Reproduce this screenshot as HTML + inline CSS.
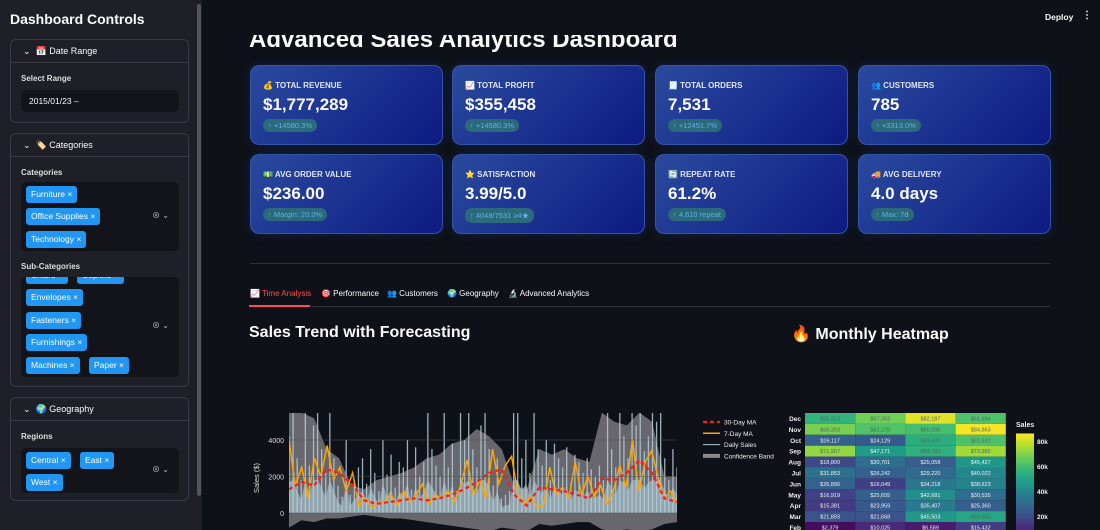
<!DOCTYPE html>
<html><head><meta charset="utf-8">
<style>
*{box-sizing:border-box;margin:0;padding:0}
body{width:1100px;height:530px;overflow:hidden;background:#0e1117;font-family:"Liberation Sans","Noto Sans CJK SC",sans-serif;color:#fafafa;position:relative}
.abs{position:absolute}
#sidebar{left:0;top:0;width:202px;height:530px;background:#1f2027;z-index:5}
.sbtitle{left:10px;top:11px;font-size:14px;font-weight:bold}
.exp{left:10px;width:179px;border:1px solid #3a3b45;border-radius:6px}
.exphead{height:23px;border-bottom:1px solid #3a3b45;font-size:9px;padding:6px 0 0 12px}
.lbl{font-size:8px;font-weight:bold;color:#ddd;position:absolute;left:10px}
.inp{position:absolute;left:10px;width:158px;background:#13141a;border-radius:5px}
.tag{position:absolute;background:#2196f3;color:#fff;font-size:8.5px;border-radius:3px;height:17px;line-height:17px;padding:0 5px}
.ctl{position:absolute;right:10px;font-size:8px;color:#bbb}
.card{width:193px;height:80px;border-radius:9px;background:linear-gradient(135deg,#2a4a9e,#0d1a82);border:1px solid #3554a8;box-shadow:0 0 10px rgba(30,60,160,.35)}
.card .t{position:absolute;left:12px;top:15px;font-size:8px;font-weight:bold;color:#e0e4f5}
.card .v{position:absolute;left:12px;top:29px;font-size:17px;font-weight:bold}
.card .d{position:absolute;left:12px;top:53px;font-size:7.5px;color:#5fb3f0;background:#2a6a7a;border-radius:7px;padding:2px 5px}
.tab{top:289px;font-size:8px}
</style></head><body>
<div id="sidebar" class="abs">
  <div class="abs sbtitle">Dashboard Controls</div>
  <div class="abs" style="left:197px;top:4px;width:4px;height:492px;background:#555;border-radius:2px"></div>
  <div class="abs exp" style="top:39px;height:84px">
    <div class="exphead">⌄ &nbsp;📅 Date Range</div>
    <div class="lbl" style="top:34px">Select Range</div>
    <div class="inp" style="top:50px;height:22px;font-size:8.5px;padding:6px 8px">2015/01/23 –</div>
  </div>
  <div class="abs exp" style="top:133px;height:254px">
    <div class="exphead">⌄ &nbsp;🏷️ Categories</div>
    <div class="lbl" style="top:34px">Categories</div>
    <div class="inp" style="top:48px;height:69px">
      <div class="tag" style="left:5px;top:4px">Furniture ×</div>
      <div class="tag" style="left:5px;top:26px">Office Supplies ×</div>
      <div class="tag" style="left:5px;top:49px">Technology ×</div>
      <div class="ctl" style="top:28px">⊗ ⌄</div>
    </div>
    <div class="lbl" style="top:128px">Sub-Categories</div>
    <div class="inp" style="top:143px;height:100px;overflow:hidden">
      <div class="tag" style="left:5px;top:-10px">Chairs ×</div>
      <div class="tag" style="left:56px;top:-10px">Copiers ×</div>
      <div class="tag" style="left:5px;top:12px">Envelopes ×</div>
      <div class="tag" style="left:5px;top:35px">Fasteners ×</div>
      <div class="tag" style="left:5px;top:57px">Furnishings ×</div>
      <div class="tag" style="left:5px;top:80px">Machines ×</div>
      <div class="tag" style="left:68px;top:80px">Paper ×</div>
      <div class="ctl" style="top:43px">⊗ ⌄</div>
    </div>
  </div>
  <div class="abs exp" style="top:397px;height:104px">
    <div class="exphead">⌄ &nbsp;🌍 Geography</div>
    <div class="lbl" style="top:34px">Regions</div>
    <div class="inp" style="top:50px;height:45px">
      <div class="tag" style="left:5px;top:4px">Central ×</div>
      <div class="tag" style="left:59px;top:4px">East ×</div>
      <div class="tag" style="left:5px;top:26px">West ×</div>
      <div class="ctl" style="top:16px">⊗ ⌄</div>
    </div>
  </div>
</div>

<div class="abs" style="left:249px;top:25px;font-size:24px;font-weight:bold;line-height:30px">Advanced Sales Analytics Dashboard</div>
<div class="abs" style="left:202px;top:0;width:898px;height:35px;background:#0e1117"></div>
<div class="abs" style="left:1045px;top:12px;font-size:8.5px;font-weight:bold">Deploy</div>
<div class="abs" style="left:1082px;top:10px;font-size:10px;font-weight:bold">⋮</div>

<div class="abs card" style="left:250px;top:65px"><div class="t">💰 TOTAL REVENUE</div><div class="v">$1,777,289</div><div class="d">↑ +14580.3%</div></div>
<div class="abs card" style="left:452px;top:65px"><div class="t">📈 TOTAL PROFIT</div><div class="v">$355,458</div><div class="d">↑ +14580.3%</div></div>
<div class="abs card" style="left:655px;top:65px"><div class="t">🧾 TOTAL ORDERS</div><div class="v">7,531</div><div class="d">↑ +12451.7%</div></div>
<div class="abs card" style="left:858px;top:65px"><div class="t">👥 CUSTOMERS</div><div class="v">785</div><div class="d">↑ +3313.0%</div></div>
<div class="abs card" style="left:250px;top:154px"><div class="t">💵 AVG ORDER VALUE</div><div class="v">$236.00</div><div class="d">↑ Margin: 20.0%</div></div>
<div class="abs card" style="left:452px;top:154px"><div class="t">⭐ SATISFACTION</div><div class="v">3.99/5.0</div><div class="d">↑ 4048/7531 ≥4★</div></div>
<div class="abs card" style="left:655px;top:154px"><div class="t">🔄 REPEAT RATE</div><div class="v">61.2%</div><div class="d">↑ 4,610 repeat</div></div>
<div class="abs card" style="left:858px;top:154px"><div class="t">🚚 AVG DELIVERY</div><div class="v">4.0 days</div><div class="d">↑ Max: 7d</div></div>

<div class="abs" style="left:250px;top:263px;width:800px;height:1px;background:#30323a"></div>
<div class="abs" style="left:250px;top:306px;width:800px;height:1px;background:#30323a"></div>
<div class="abs" style="left:249px;top:305px;width:61px;height:2px;background:#ff4b4b"></div>
<div class="abs tab" style="left:250px;color:#ff4b4b">📈 Time Analysis</div>
<div class="abs tab" style="left:321px">🎯 Performance</div>
<div class="abs tab" style="left:387px">👥 Customers</div>
<div class="abs tab" style="left:447px">🌍 Geography</div>
<div class="abs tab" style="left:508px">🔬 Advanced Analytics</div>
<div class="abs" style="left:249px;top:324px;font-size:16px;font-weight:bold">Sales Trend with Forecasting</div>
<div class="abs" style="left:791px;top:324px;font-size:16px;font-weight:bold">🔥 Monthly Heatmap</div>

<svg id="chart" class="abs" style="left:0;top:0" width="1100" height="530"></svg>

<script>
// ---- sales trend data (values in $) ----
const dailySales=[4200,5500,3000,1800,5500,2600,4800,5500,3500,2200,5500,3000,1500,900,4000,1000,1800,2500,3000,1600,3500,2200,1200,4000,2100,3200,1400,2800,2500,4000,1300,3600,2000,2800,5500,3500,2600,2000,5500,2500,3800,1200,5500,4000,5500,3500,2500,4800,5500,3500,1500,3000,800,1000,1200,5500,5500,3000,4000,2200,5500,3500,2600,4000,1800,3800,3000,2500,3600,1600,3200,2800,2200,3000,2400,2000,2600,1800,5500,3500,2500,5500,4200,3000,5500,4800,5500,3400,4200,5500,5000,5500,3000,1800,3500,2500];
const ma7=[4000,1500,2500,800,3000,2000,3700,1800,2500,1200,2200,400,800,300,500,600,1000,400,1200,600,1000,1600,500,1000,800,1200,600,1500,2900,1000,1800,800,3500,1600,2600,3100,1000,500,900,300,400,2500,1000,1400,800,2800,1000,2000,900,1500,500,1200,2600,1400,4000,1200,2800,3400,2000,800,1200,600];
const ma30=[1300,1700,1500,2400,2200,1600,700,500,600,700,800,700,800,1000,1300,1700,2200,2400,1000,400,1400,1300,1200,1000,800,1900,1800,2200,2900,2200,800,600];
const bandUpper=[5500,5500,5200,3500,3000,1500,1300,1800,2000,2200,2500,3000,3200,3800,4000,4600,4200,3500,1500,1300,3500,3200,3500,3000,2800,5500,5000,4800,5500,5000,2000,2000];
const bandLower=[-800,-400,-500,-300,-300,-200,-100,-200,-300,-300,-400,-500,-600,-700,-800,-900,-1000,-800,-900,-1000,-600,-700,-600,-500,-500,-900,-1000,-900,-1000,-900,-600,-500];
const yTicks=[0,2000,4000];
const legendLabels=["30-Day MA","7-Day MA","Daily Sales","Confidence Band"];
// ---- heatmap data ----
const hmMonths=["Dec","Nov","Oct","Sep","Aug","Jul","Jun","May","Apr","Mar","Feb","Jan"];
const hmValues=[
[55913,67353,82187,61694],[68393,62278,60295,84863],[26117,24129,53433,61642],[71907,47171,54783,73985],
[18809,30701,25058,45427],[31853,26242,29220,40022],[26896,16049,34218,38623],[16919,25655,42681,30535],
[15381,23959,35407,25360],[21893,21668,45503,50652],[2379,10025,6589,15432],[5200,8100,11900,9800]];
const cbTicks=[20000,40000,60000,80000];

const NS="http://www.w3.org/2000/svg";
const svg=document.getElementById('chart');
function mk(t,a,p){const e=document.createElementNS(NS,t);for(const k in a)e.setAttribute(k,a[k]);(p||svg).appendChild(e);return e;}
const X0=289,X1=677;
function xS(i,n){return X0+i/(n-1)*(X1-X0);}
function yS(v){return 513-v*0.01825;}
const clip=mk('clipPath',{id:'pc'});mk('rect',{x:X0,y:413,width:X1-X0,height:200},clip);
const g=mk('g',{'clip-path':'url(#pc)'});


let bp='';bandUpper.forEach((v,i)=>{bp+=(i?'L':'M')+xS(i,bandUpper.length)+','+yS(v);});
for(let i=bandLower.length-1;i>=0;i--)bp+='L'+xS(i,bandLower.length)+','+yS(bandLower[i]);
const band=mk('path',{d:bp+'Z',fill:'#77777c','fill-opacity':'0.85'},g);


yTicks.forEach(t=>{
  const l=mk('line',{x1:X0,x2:X1,y1:yS(t),y2:yS(t),stroke:'#555',"stroke-width":0.6});
  
  
  const tx=mk('text',{x:284,y:yS(t)+3,'text-anchor':'end','font-size':7,fill:'#ddd'});tx.textContent=t;
  
  
});
let fa='M'+X0+','+yS(0);dailySales.forEach((v,i)=>{fa+='L'+xS(i,dailySales.length)+','+yS(Math.min(v*0.4,1800));});
fa+='L'+X1+','+yS(0)+'Z';
const dsf=mk('path',{d:fa,fill:'#9fb8c4','fill-opacity':0.75},g);


let dp='';dailySales.forEach((v,i)=>{const x=xS(i,dailySales.length);dp+='M'+x+','+yS(0)+'L'+x+','+yS(v);});
const ds=mk('path',{d:dp,stroke:'#b4ccd6','stroke-width':1.3,fill:'none','stroke-opacity':0.85},g);


let p7='';ma7.forEach((v,i)=>{p7+=(i?'L':'M')+xS(i,ma7.length)+','+yS(v);});
const l7=mk('path',{d:p7,stroke:'#ffa500','stroke-width':1.5,fill:'none'},g);


let p30='';ma30.forEach((v,i)=>{p30+=(i?'L':'M')+xS(i,ma30.length)+','+yS(v);});
const l30=mk('path',{d:p30,stroke:'#ff1a1a','stroke-width':2.2,'stroke-dasharray':'4,3',fill:'none'},g);


const yt=mk('text',{x:0,y:0,transform:'translate(259,478) rotate(-90)','text-anchor':'middle','font-size':7.5,fill:'#ddd'});yt.textContent='Sales ($)';


const lsty=[{s:'#ff1a1a',w:2.2,d:'4,3'},{s:'#ffa500',w:1.5,d:''},{s:'#a9c4d0',w:1,d:''},{s:'#8a8a8e',w:4,d:''}];
legendLabels.forEach((t,i)=>{
  const y=422+i*11.3;
  const ln=mk('line',{x1:703,x2:720,y1:y,y2:y,stroke:lsty[i].s,'stroke-width':lsty[i].w,'stroke-dasharray':lsty[i].d});
  
  
  const tx=mk('text',{x:724,y:y+2.5,'font-size':6.5,fill:'#eee'});tx.textContent=t;
  
  
});
const VS=[[68,1,84],[72,40,120],[62,74,137],[49,104,142],[38,130,142],[31,158,137],[53,183,121],[109,205,89],[180,222,44],[253,231,37]];
function vir(t){t=Math.max(0,Math.min(1,t))*(VS.length-1);const i=Math.min(VS.length-2,Math.floor(t)),f=t-i;
 const c=VS[i].map((a,k)=>Math.round(a+(VS[i+1][k]-a)*f));return 'rgb('+c.join(',')+')';}
const VMAX=86000;
const HX=805,CW=50.2,HY=413,RH=10.9;
hmMonths.forEach((m,r)=>{
  const ml=mk('text',{x:HX-4,y:HY+r*RH+8,'text-anchor':'end','font-size':6.5,'font-weight':'bold',fill:'#eee'});ml.textContent=m;
  
  
  hmValues[r].forEach((v,c)=>{
    const rc=mk('rect',{x:HX+c*CW,y:HY+r*RH,width:CW,height:RH,fill:vir(v/VMAX)});
    
    
    const tx=mk('text',{x:HX+c*CW+CW/2,y:HY+r*RH+7.5,'text-anchor':'middle','font-size':5.5,fill:v>50000?'#4a6a60':'#f0f0f0'});
    tx.textContent='$'+v.toLocaleString('en-US');
    
    
  });
});
const CB0=541,CBK=25/20000;
const gr=mk('linearGradient',{id:'cbg',x1:0,y1:1,x2:0,y2:0});
VS.forEach((c,i)=>mk('stop',{offset:i/(VS.length-1),'stop-color':'rgb('+c.join(',')+')'},gr));
const cb=mk('rect',{x:1016,y:CB0-VMAX*CBK,width:18,height:VMAX*CBK,fill:'url(#cbg)'});


const cbt=mk('text',{x:1016,y:427,'font-size':7,'font-weight':'bold',fill:'#eee'});cbt.textContent='Sales';


cbTicks.forEach(t=>{
  const tx=mk('text',{x:1037,y:CB0-t*CBK+3,'font-size':6.5,'font-weight':'bold',fill:'#eee'});tx.textContent=(t/1000)+'k';
  
  
});
</script>
</body></html>
